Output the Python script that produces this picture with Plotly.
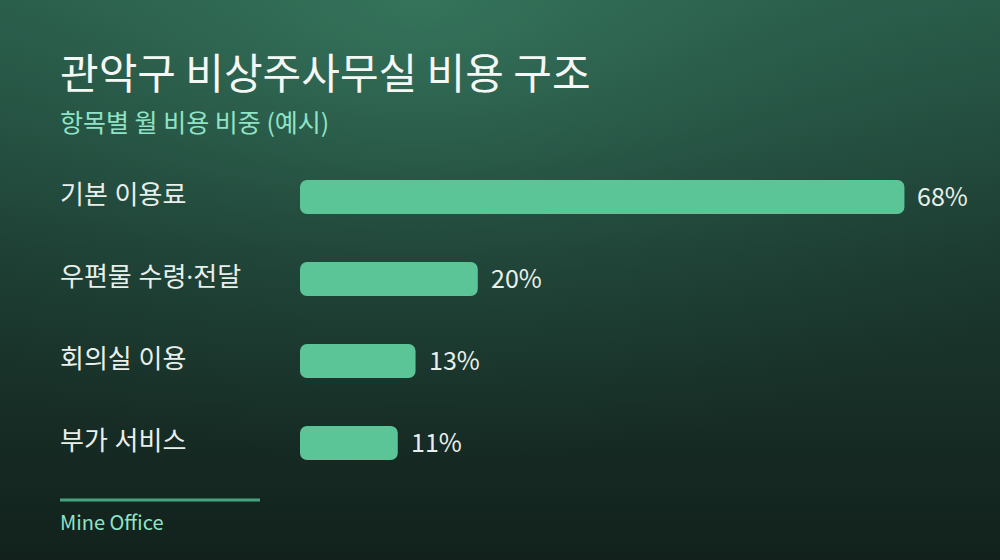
import plotly.graph_objects as go

# 데이터
categories = ["기본 이용료", "우편물 수령·전달", "회의실 이용", "부가 서비스"]
shares = [68, 20, 13, 11]
value_labels = ["68%", "20%", "13%", "11%"]

title_text = "관악구 비상주사무실 비용 구조"
subtitle_text = "항목별 월 비용 비중 (예시)"
footer_text = "Mine Office"

W, H = 1000, 560
FONT = "Noto Sans CJK KR"
LABEL_FONT = "Noto Sans, Noto Sans CJK KR"
BAR_COLOR = "#5bc598"

fig = go.Figure()

# 배경: 세로 그라데이션 + 상단 중앙 광원
fig.add_trace(go.Scatter(
    x=[0, W, W, 0, 0], y=[0, 0, H, H, 0],
    mode="lines", line=dict(width=0), fill="toself",
    fillgradient=dict(type="vertical", start=0, stop=H,
                      colorscale=[[0, "#285a48"], [0.45, "#1c3a30"], [1, "#12211c"]]),
    hoverinfo="skip", showlegend=False, xaxis="x", yaxis="y",
))
fig.add_trace(go.Scatter(
    x=[-380, 1220, 1220, -380, -380], y=[-460, -460, 460, 460, -460],
    mode="lines", line=dict(width=0), fill="toself",
    fillgradient=dict(type="radial",
                      colorscale=[[0, "rgba(58,125,98,0.75)"], [0.5, "rgba(50,110,88,0.3)"],
                                  [1, "rgba(40,90,72,0)"]]),
    hoverinfo="skip", showlegend=False, xaxis="x", yaxis="y",
))

# 막대 (양쪽 끝을 둥글게: 왼쪽 조각 + 오른쪽 조각을 겹쳐 그림)
left_part = [v * 0.6 for v in shares]
right_base = [v * 0.4 for v in shares]
fig.add_trace(go.Bar(
    x=[-p for p in left_part], base=left_part, y=categories, orientation="h",
    marker=dict(color=BAR_COLOR, line=dict(width=0)),
    hoverinfo="skip", showlegend=False, xaxis="x2", yaxis="y2",
))
fig.add_trace(go.Bar(
    x=[v - b for v, b in zip(shares, right_base)], base=right_base, y=categories,
    orientation="h", marker=dict(color=BAR_COLOR, line=dict(width=0)),
    hoverinfo="skip", showlegend=False, xaxis="x2", yaxis="y2",
))

annotations = []
for cat, val, lab in zip(categories, shares, value_labels):
    annotations.append(dict(
        x=0.058, xref="paper", y=cat, yref="y2", text=cat, showarrow=False,
        xanchor="left", yanchor="middle", yshift=3,
        font=dict(family=LABEL_FONT, size=26, color="#e9efeb"),
    ))
    annotations.append(dict(
        x=val, xref="x2", y=cat, yref="y2", text=lab, showarrow=False,
        xanchor="left", yanchor="middle", xshift=11, yshift=2,
        font=dict(family=FONT, size=25, color="#e9efeb"),
    ))

annotations += [
    dict(x=0.058, xref="paper", y=1 - 70 / H, yref="paper", text=title_text,
         showarrow=False, xanchor="left", yanchor="middle",
         font=dict(family=FONT, size=42, color="#f4f7f5")),
    dict(x=0.058, xref="paper", y=1 - 121 / H, yref="paper", text=subtitle_text,
         showarrow=False, xanchor="left", yanchor="middle",
         font=dict(family=FONT, size=25, color="#8fe3c6")),
    dict(x=0.058, xref="paper", y=1 - 521 / H, yref="paper", text=footer_text,
         showarrow=False, xanchor="left", yanchor="middle",
         font=dict(family=FONT, size=20, color="#8fe3c6")),
]

fig.update_layout(
    width=W, height=H,
    margin=dict(l=0, r=0, t=0, b=0),
    paper_bgcolor="#12211c", plot_bgcolor="rgba(0,0,0,0)",
    xaxis=dict(domain=[0, 1], range=[0, W], visible=False, fixedrange=True),
    yaxis=dict(domain=[0, 1], range=[H, 0], visible=False, fixedrange=True),
    xaxis2=dict(domain=[0.3, 0.98], range=[0, 76.5], visible=False, anchor="y2"),
    yaxis2=dict(domain=[1 - 484 / H, 1 - 156 / H], autorange="reversed",
                visible=False, anchor="x2"),
    barmode="overlay", bargap=0.585, barcornerradius=7,
    annotations=annotations,
    shapes=[dict(type="line", xref="paper", yref="paper",
                 x0=0.06, x1=0.26, y0=1 - 500 / H, y1=1 - 500 / H,
                 line=dict(color="#46a382", width=3))],
)

fig.write_html("out.html", config={"displayModeBar": False},
               post_script="document.body.style.margin='0';")
